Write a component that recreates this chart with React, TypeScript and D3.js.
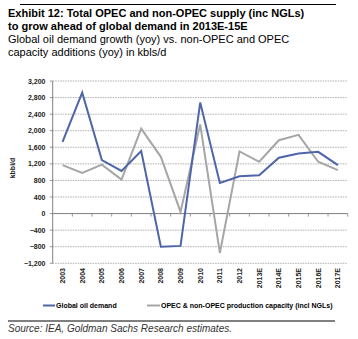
import React from "react";
import * as d3 from "d3";

const categories = ["2003","2004","2005","2006","2007","2008","2009","2010","2011","2012","2013E","2014E","2015E","2016E","2017E"];
const demand = [1730, 2920, 1290, 1030, 1510, -800, -780, 2680, 740, 900, 925, 1350, 1450, 1490, 1170];
const capacity = [1170, 980, 1180, 820, 2050, 1370, 40, 2150, -950, 1500, 1250, 1770, 1900, 1250, 1050];
const yTicks = [-1200, -800, -400, 0, 400, 800, 1200, 1600, 2000, 2400, 2800, 3200];
const titleLines = ["Exhibit 12: Total OPEC and non-OPEC supply (inc NGLs)", "to grow ahead of global demand in 2013E-15E"];
const subtitleLines = ["Global oil demand growth (yoy) vs. non-OPEC and OPEC", "capacity additions (yoy) in kbls/d"];
const legendLabels = ["Global oil demand", "OPEC & non-OPEC production capacity (incl NGLs)"];
const source = "Source: IEA, Goldman Sachs Research estimates.";

const BLUE = "#4e66a8";
const GRAY = "#a6a6a6";

export default function App() {
  const W = 358, H = 339;
  const left = 52.7, right = 347.7, top = 81, bottom = 263.3;
  const x = d3.scaleBand<string>().domain(categories).range([left, right]);
  const y = d3.scaleLinear().domain([-1200, 3200]).range([bottom, top]);
  const cx = (c: string) => (x(c) as number) + x.bandwidth() / 2;
  const line = d3.line<number>().x((_, i) => cx(categories[i])).y((d) => y(d));
  const fmt = d3.format(",");
  const font = "'Liberation Sans', Arial, sans-serif";
  return (
    <svg width={W} height={H} style={{ position: "absolute", left: 0, top: 0, background: "#fff" }} fontFamily={font}>
      <line x1={20} x2={336} y1={4.5} y2={4.5} stroke="#000" strokeWidth={1} />
      {titleLines.map((t, i) => (
        <text key={t} x={8} y={17 + i * 13} fontSize={11} fontWeight="bold" fill="#000">{t}</text>
      ))}
      {subtitleLines.map((t, i) => (
        <text key={t} x={8} y={43 + i * 12.5} fontSize={11} fill="#000">{t}</text>
      ))}
      {yTicks.map((v) => (
        <g key={v}>
          {v !== 0 && (
            <line x1={left} x2={right} y1={y(v)} y2={y(v)} stroke="#9a9a9a" strokeWidth={0.8} strokeDasharray="1.5,1" />
          )}
          <line x1={left - 3} x2={left} y1={y(v)} y2={y(v)} stroke="#808080" strokeWidth={0.8} />
          <text x={45.5} y={y(v) + 2.5} fontSize={7} fontWeight="bold" textAnchor="end" fill="#222">{fmt(v)}</text>
        </g>
      ))}
      <line x1={left} x2={left} y1={top} y2={bottom} stroke="#808080" strokeWidth={1} />
      <line x1={left} x2={right} y1={y(0)} y2={y(0)} stroke="#808080" strokeWidth={1} />
      {categories.map((c, i) => (
        <line key={c} x1={(x(c) as number) + x.bandwidth()} x2={(x(c) as number) + x.bandwidth()} y1={y(0)} y2={y(0) + 3} stroke="#808080" strokeWidth={0.8} />
      ))}
      {categories.map((c) => (
        <text key={c} transform={`translate(${cx(c) + 2.5},268) rotate(-90)`} fontSize={7} fontWeight="bold" textAnchor="end" fill="#222">{c}</text>
      ))}
      <text transform={`translate(15,168) rotate(-90)`} fontSize={7} fontWeight="bold" textAnchor="middle" fill="#222">kbbl/d</text>
      <path d={line(capacity) as string} fill="none" stroke={GRAY} strokeWidth={2} />
      <path d={line(demand) as string} fill="none" stroke={BLUE} strokeWidth={2} />
      <line x1={43} x2={55} y1={305.5} y2={305.5} stroke={BLUE} strokeWidth={2} />
      <text x={56} y={308} fontSize={7} fontWeight="bold" fill="#000">{legendLabels[0]}</text>
      <line x1={147} x2={160} y1={305.5} y2={305.5} stroke={GRAY} strokeWidth={2} />
      <text x={161} y={308} fontSize={7} fontWeight="bold" fill="#000">{legendLabels[1]}</text>
      <line x1={8} x2={335} y1={321} y2={321} stroke="#000" strokeWidth={1} />
      <text x={8} y={332} fontSize={10} fontStyle="italic" fill="#333">{source}</text>
    </svg>
  );
}
